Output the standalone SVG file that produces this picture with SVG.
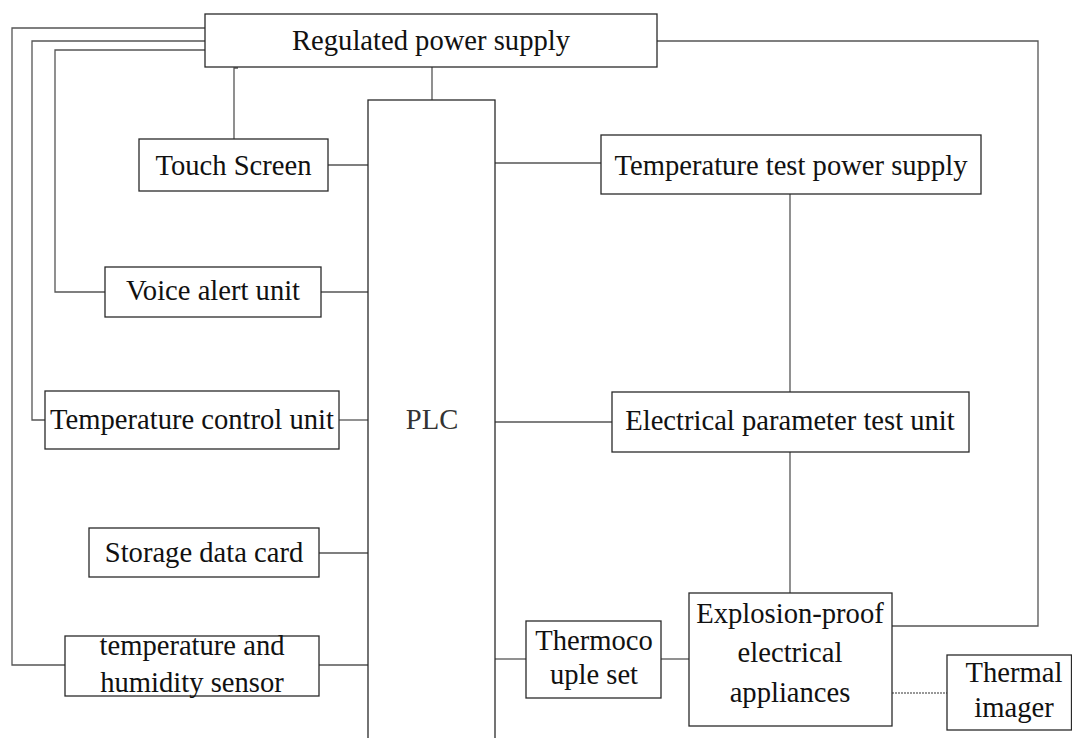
<svg xmlns="http://www.w3.org/2000/svg" width="1072" height="738" viewBox="0 0 1072 738">
<style>
.box{fill:#fff;stroke:#2a2a2a;stroke-width:1.3}
.ln{fill:none;stroke:#555;stroke-width:1.3}
.dot{fill:none;stroke:#777;stroke-width:1.3;stroke-dasharray:2 1}
text{font-family:"Liberation Serif","Times New Roman",serif;font-size:28.6px;fill:#111;text-anchor:middle}
.plc{fill:#333}
</style>
<rect width="1072" height="738" fill="#fff"/>
<g id="connectors">
<path class="ln" d="M205,28 H12 V665 H65"/>
<path class="ln" d="M205,41 H32 V420 H45"/>
<path class="ln" d="M205,50 H55 V292 H105"/>
<path class="ln" d="M238,68 H234 V139"/>
<path class="ln" d="M428,65 H432 V100"/>
<path class="ln" d="M328,165 H368"/>
<path class="ln" d="M321,292 H368"/>
<path class="ln" d="M339,420 H368"/>
<path class="ln" d="M319,553 H368"/>
<path class="ln" d="M319,665 H368"/>
<path class="ln" d="M495,163 H601"/>
<path class="ln" d="M495,422 H612"/>
<path class="ln" d="M495,659 H526"/>
<path class="ln" d="M661,659 H689"/>
<path class="ln" d="M790,194 V392"/>
<path class="ln" d="M790,452 V593"/>
<path class="ln" d="M892,626 H1038 V41 H657"/>
<path class="dot" d="M892,693 H947"/>
</g>
<g id="regulated-power-supply">
<rect class="box" x="205" y="14" width="452" height="53"/>
<text x="431" y="50">Regulated power supply</text>
</g>
<g id="plc">
<rect class="box" x="368" y="100" width="127" height="660"/>
<text class="plc" x="432" y="429">PLC</text>
</g>
<g id="touch-screen">
<rect class="box" x="139" y="139" width="189" height="52"/>
<text x="233.5" y="175">Touch Screen</text>
</g>
<g id="voice-alert-unit">
<rect class="box" x="105" y="267" width="216" height="50"/>
<text x="213" y="300">Voice alert unit</text>
</g>
<g id="temperature-control-unit">
<rect class="box" x="45" y="391" width="294" height="58"/>
<text x="192" y="429">Temperature control unit</text>
</g>
<g id="storage-data-card">
<rect class="box" x="89" y="528" width="230" height="49"/>
<text x="204" y="562">Storage data card</text>
</g>
<g id="temperature-humidity-sensor">
<rect class="box" x="65" y="636" width="254" height="60"/>
<text x="192" y="655">temperature and</text>
<text x="192" y="692">humidity sensor</text>
</g>
<g id="temperature-test-power-supply">
<rect class="box" x="601" y="135" width="380" height="59"/>
<text x="791" y="175">Temperature test power supply</text>
</g>
<g id="electrical-parameter-test-unit">
<rect class="box" x="612" y="392" width="357" height="60"/>
<text x="790" y="430">Electrical parameter test unit</text>
</g>
<g id="thermocouple-set">
<rect class="box" x="526" y="621" width="135" height="77"/>
<text x="594" y="650">Thermoco</text>
<text x="594" y="684">uple set</text>
</g>
<g id="explosion-proof-appliances">
<rect class="box" x="689" y="593" width="203" height="133"/>
<text x="790" y="623">Explosion-proof</text>
<text x="790" y="662">electrical</text>
<text x="790" y="702">appliances</text>
</g>
<g id="thermal-imager">
<rect class="box" x="947" y="655" width="124.5" height="75"/>
<text x="1014" y="682">Thermal</text>
<text x="1014" y="717">imager</text>
</g>
</svg>
